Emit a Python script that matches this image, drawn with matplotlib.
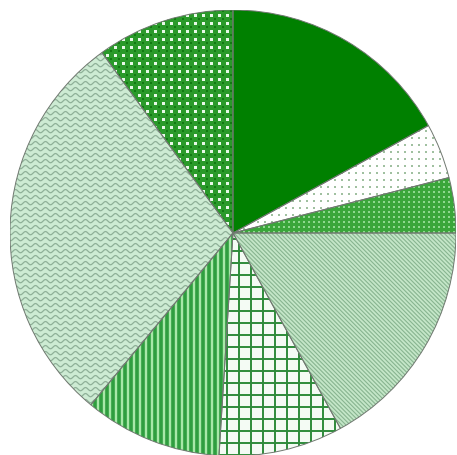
import matplotlib
matplotlib.use("Agg")
import matplotlib.pyplot as plt
from matplotlib.collections import LineCollection
from matplotlib.patches import PathPatch
import numpy as np

# slice shares (percent), clockwise from 12 o'clock
labels = ["A", "B", "C", "D", "E", "F", "G", "H"]
values = [17, 4, 4, 17, 9, 10, 29, 10]
face_colors = ["#008000", "#ffffff", "#3aa63a", "#c4e6c8",
               "#f4fbf4", "#a8e8a8", "#cdebd3", "#e8f8e8"]

# pixel -> data conversion (radius 1 == 223 px)
PX = 1.0 / 223


def clip_lines(ax, wedge, segs, color, lw):
    lc = LineCollection(segs, colors=color, linewidths=lw, zorder=3)
    ax.add_collection(lc)
    lc.set_clip_path(wedge)


def lines_v(ax, wedge, spacing, color, lw, offset=0.0):
    xs = np.arange(-1.05 + offset, 1.05, spacing)
    segs = [[(x, -1.05), (x, 1.05)] for x in xs]
    clip_lines(ax, wedge, segs, color, lw)


def lines_h(ax, wedge, spacing, color, lw, offset=0.0):
    ys = np.arange(-1.05 + offset, 1.05, spacing)
    segs = [[(-1.05, y), (1.05, y)] for y in ys]
    clip_lines(ax, wedge, segs, color, lw)


def lines_diag(ax, wedge, spacing, color, lw):
    # lines going down to the right: y = -x + c
    cs = np.arange(-2.2, 2.2, spacing)
    segs = [[(-1.1, 1.1 + c), (1.1, -1.1 + c)] for c in cs]
    clip_lines(ax, wedge, segs, color, lw)


def waves(ax, wedge, spacing, period, amp, color, lw):
    xs = np.linspace(-1.05, 1.05, 900)
    segs = []
    for y in np.arange(-1.05, 1.05, spacing):
        segs.append(np.column_stack([xs, y + amp * np.sin(2 * np.pi * xs / period)]))
    clip_lines(ax, wedge, segs, color, lw)


def dots(ax, wedge, spacing, color, size):
    g = np.arange(-1.05, 1.05, spacing)
    gx, gy = np.meshgrid(g, g)
    sc = ax.scatter(gx.ravel(), gy.ravel(), s=size, c=color, marker="s",
                    linewidths=0, zorder=3)
    sc.set_clip_path(wedge)


fig = plt.figure(figsize=(4.57, 4.55), dpi=100)
ax = fig.add_axes([10 / 457, (455 - 233 - 223) / 455, 446 / 457, 446 / 455])

wedges, _ = ax.pie(values, colors=face_colors, startangle=90, counterclock=False,
                   radius=1, wedgeprops=dict(edgecolor="none", linewidth=0))

# textures, one per slice
dots(ax, wedges[1], 7 * PX, "#a0c0a0", 1.2)
dots(ax, wedges[2], 5 * PX, "#8fd88f", 1.8)
lines_diag(ax, wedges[3], 4.2 * PX, "#88b490", 0.8)
lines_v(ax, wedges[4], 12 * PX, "#2e8b3a", 1.4)
lines_h(ax, wedges[4], 12 * PX, "#2e8b3a", 1.4)
lines_v(ax, wedges[5], 6 * PX, "#2f9e3f", 2.6)
waves(ax, wedges[6], 6 * PX, 10 * PX, 1.6 * PX, "#8fb098", 0.9)
lines_v(ax, wedges[7], 8 * PX, "#2a9a2a", 3.6)
lines_h(ax, wedges[7], 8 * PX, "#2a9a2a", 3.6)
dots(ax, wedges[7], 8 * PX, "#127a12", 3.5)

# slice outlines on top
for w in wedges:
    ax.add_patch(PathPatch(w.get_path(), transform=w.get_transform(),
                           fill=False, edgecolor="#707870", linewidth=0.7,
                           zorder=4))

ax.set_xlim(-1.0, 1.0)
ax.set_ylim(-1.0, 1.0)
ax.set_aspect("auto")
ax.axis("off")

fig.savefig("out.png", dpi=100)
